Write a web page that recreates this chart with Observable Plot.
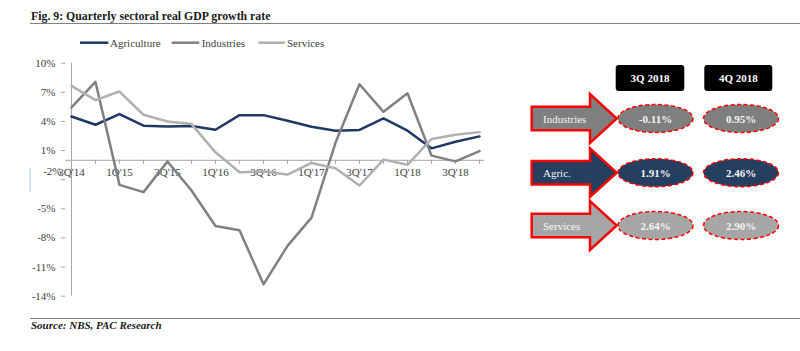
<!DOCTYPE html>
<html><head><meta charset="utf-8">
<script src="https://cdn.jsdelivr.net/npm/d3@7"></script>
<script src="https://cdn.jsdelivr.net/npm/@observablehq/plot@0.6"></script>
<style>
body{margin:0;background:#fff;}
#wrap{position:relative;width:800px;height:351px;overflow:hidden;font-family:"Liberation Serif",serif;}
#wrap svg{position:absolute;left:0;top:0;}
</style></head><body><div id="wrap"></div>
<script>
const quarters = ["3Q'14","4Q'14","1Q'15","2Q'15","3Q'15","4Q'15","1Q'16","2Q'16","3Q'16","4Q'16","1Q'17","2Q'17","3Q'17","4Q'17","1Q'18","2Q'18","3Q'18","4Q'18"];
const labelQuarters = ["3Q'14","1Q'15","3Q'15","1Q'16","3Q'16","1Q'17","3Q'17","1Q'18","3Q'18"];
const agriculture = [4.51,3.66,4.76,3.56,3.48,3.53,3.15,4.65,4.65,4.07,3.46,3.05,3.12,4.31,3.05,1.23,1.91,2.46];
const industries  = [5.44,8.07,-2.53,-3.28,-0.13,-3.11,-6.77,-7.21,-12.78,-8.82,-5.91,1.8,7.83,4.99,6.91,0.48,-0.11,0.95];
const services    = [7.66,6.19,7.08,4.69,4.0,3.73,0.82,-1.23,-1.16,-1.47,-0.27,-0.82,-2.6,0.07,-0.47,2.19,2.64,2.90];
const seriesNames = ["Agriculture","Industries","Services"];
const seriesColors = ["#1f3864","#808080","#b0b0b0"];
const yTicks = [10,7,4,1,-2,-5,-8,-11,-14];
const panelHeaders = ["3Q 2018","4Q 2018"];
const panelRows = ["Industries","Agric.","Services"];
const panel3Q = ["-0.11%","1.91%","2.64%"];
const panel4Q = ["0.95%","2.46%","2.90%"];
const panelFills = ["#7f7f7f","#243f60","#a6a6a6"];

const rows = quarters.flatMap((q,i)=>[
  {q, v: agriculture[i], s: seriesNames[0]},
  {q, v: industries[i], s: seriesNames[1]},
  {q, v: services[i], s: seriesNames[2]}
]);

const axisGray = "#a6a6a6";
const chart = Plot.plot({
  width: 800, height: 351,
  marginTop: 62.7, marginBottom: 55.3, marginLeft: 65, marginRight: 315.7,
  x: {type: "point", domain: quarters, padding: 0, axis: null, label: null},
  y: {domain: [-14, 10], axis: null, label: null},
  color: {domain: seriesNames, range: seriesColors},
  style: {fontFamily: "Liberation Serif, serif", fontSize: "11px", color: "#404040", background: "transparent"},
  marks: [
    Plot.ruleY([0], {stroke: axisGray}),
    Plot.ruleX(quarters, {x: d => d, y1: 0, y2: -0.42, stroke: axisGray}),
    Plot.ruleX([quarters[0]], {y1: -14, y2: 10, stroke: axisGray}),
    Plot.axisY(yTicks, {tickSize: 4, tickPadding: 6, label: null, stroke: axisGray, fill: "#404040", tickFormat: d => d === -2 ? "" : d + "%"}),
    Plot.text([-2], {x: () => quarters[0], y: d => d, text: d => d + "%", textAnchor: "end", dx: -10, dy: -8, fill: "#404040"}),
    Plot.text(labelQuarters, {x: d => d, y: 0, dy: 12, fill: "#404040"}),
    Plot.lineY(rows, {x: "q", y: "v", z: "s", stroke: "s", strokeWidth: 2.5})
  ]
});
const wrap = document.getElementById("wrap");
wrap.appendChild(chart);

// overlay: title, legend, source, panel
const svg = d3.select(wrap).append("svg").attr("width", 800).attr("height", 351)
  .style("font-family", "Liberation Serif, serif");

svg.append("text").attr("x", 31).attr("y", 19.5).attr("font-size", 11.8).attr("font-weight", "bold")
  .attr("fill", "#1a1a1a").text("Fig. 9: Quarterly sectoral real GDP growth rate");
svg.append("line").attr("x1", 30).attr("x2", 800).attr("y1", 23.5).attr("y2", 23.5).attr("stroke", "#808080");

const legendX = [[80,108.3,110],[171.7,199.3,201.7],[258.3,285,287]];
seriesNames.forEach((n,i)=>{
  svg.append("line").attr("x1", legendX[i][0]).attr("x2", legendX[i][1]).attr("y1", 42.7).attr("y2", 42.7)
    .attr("stroke", seriesColors[i]).attr("stroke-width", 2.5);
  svg.append("text").attr("x", legendX[i][2]).attr("y", 46.5).attr("font-size", 11).attr("fill", "#404040").text(n);
});

svg.append("line").attr("x1", 30).attr("x2", 800).attr("y1", 318.5).attr("y2", 318.5).attr("stroke", "#808080");
svg.append("text").attr("x", 31).attr("y", 329).attr("font-size", 11).attr("font-weight", "bold").attr("font-style", "italic")
  .attr("fill", "#1a1a1a").text("Source: NBS, PAC Research");

svg.append("line").attr("x1", 30).attr("x2", 30).attr("y1", 168).attr("y2", 192).attr("stroke", "#c5dcef").attr("stroke-width", 1.5);

// panel headers
const headX = [[615.7, 68.6], [704.3, 68]];
panelHeaders.forEach((h,i)=>{
  svg.append("rect").attr("x", headX[i][0]).attr("y", 65).attr("width", headX[i][1]).attr("height", 26).attr("rx", 3).attr("fill", "#000");
  svg.append("text").attr("x", headX[i][0] + headX[i][1]/2).attr("y", 82).attr("text-anchor", "middle")
    .attr("font-size", 11).attr("font-weight", "bold").attr("fill", "#fff").text(h);
});

const rowCy = [118.5, 172.7, 225.5];
const colCx = [655.5, 741];
panelRows.forEach((r,i)=>{
  const cy = rowCy[i];
  const p = [[531.7, cy-11.8],[590, cy-11.8],[590, cy-24.3],[616.7, cy],[590, cy+24.3],[590, cy+11.8],[531.7, cy+11.8]];
  svg.append("path").attr("d", "M" + p.map(d=>d.join(",")).join("L") + "Z")
    .attr("fill", panelFills[i]).attr("stroke", "#ff0000").attr("stroke-width", 2.5).attr("stroke-linejoin", "miter");
  svg.append("text").attr("x", 543).attr("y", cy + 4).attr("font-size", 11).attr("fill", "#f4f4f4").text(r);
  [panel3Q[i], panel4Q[i]].forEach((v,j)=>{
    svg.append("ellipse").attr("cx", colCx[j]).attr("cy", cy).attr("rx", 37.5).attr("ry", 14)
      .attr("fill", panelFills[i]).attr("stroke", "#ff0000").attr("stroke-width", 1.5).attr("stroke-dasharray", "4,2.5");
    svg.append("text").attr("x", colCx[j]).attr("y", cy + 4).attr("text-anchor", "middle")
      .attr("font-size", 11).attr("font-weight", "bold").attr("fill", "#f4f4f4").text(v);
  });
});
</script></body></html>
